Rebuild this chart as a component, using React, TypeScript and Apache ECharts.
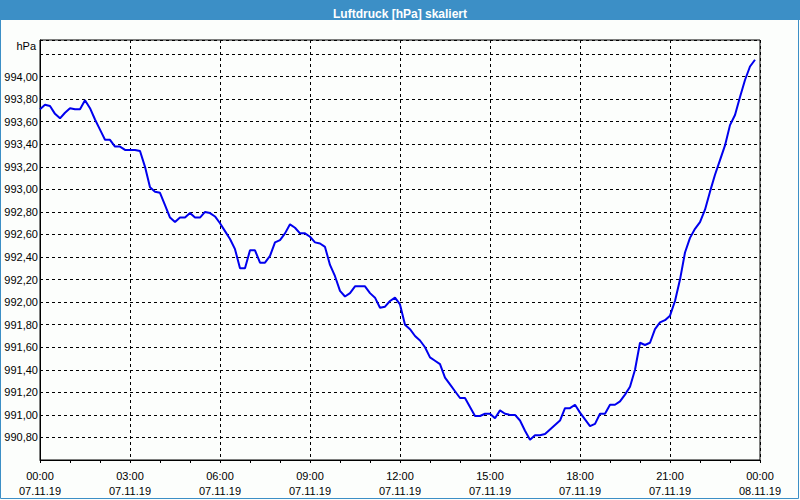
import React, { useEffect, useRef } from "react";
import * as echarts from "echarts";

const TITLE = "Luftdruck [hPa] skaliert";
const UNIT = "hPa";
const START_DATE = "07.11.19";
const END_DATE = "08.11.19";
const STEP_MINUTES = 10;

// Air pressure (hPa), one value every 10 minutes from 07.11.19 00:00 to 23:50
const pressure: number[] = [
  993.71, 993.75, 993.74, 993.67, 993.63, 993.68, 993.72, 993.71, 993.71, 993.79,
  993.72, 993.62, 993.53, 993.44, 993.44, 993.38, 993.38, 993.35, 993.35, 993.35,
  993.34, 993.2, 993.02, 992.98, 992.97, 992.86, 992.75, 992.71, 992.75, 992.75,
  992.79, 992.75, 992.75, 992.8, 992.79, 992.76, 992.7, 992.63, 992.56, 992.47,
  992.3, 992.3, 992.46, 992.46, 992.35, 992.35, 992.41, 992.53, 992.55, 992.61,
  992.69, 992.66, 992.61, 992.61, 992.58, 992.53, 992.52, 992.49, 992.33, 992.23,
  992.1, 992.05, 992.08, 992.14, 992.14, 992.14, 992.08, 992.04, 991.95, 991.96,
  992.01, 992.04, 991.98, 991.8, 991.76, 991.7, 991.66, 991.6, 991.51, 991.48,
  991.45, 991.33, 991.27, 991.21, 991.15, 991.15, 991.07, 990.99, 990.99, 991.01,
  991.01, 990.97, 991.04, 991.01, 991.0, 991.0, 990.95, 990.86, 990.78, 990.82,
  990.82, 990.83, 990.87, 990.91, 990.95, 991.06, 991.06, 991.09, 991.02, 990.96,
  990.9, 990.92, 991.01, 991.01, 991.09, 991.09, 991.12, 991.18, 991.25, 991.4,
  991.64, 991.62, 991.64, 991.76, 991.82, 991.84, 991.88, 992.01, 992.2, 992.44,
  992.57, 992.65, 992.71, 992.82, 992.98, 993.13, 993.26, 993.39, 993.57, 993.66,
  993.82, 993.97, 994.09, 994.15,
];

const Y_MIN = 990.6;
const Y_MAX = 994.325;
const Y_LABEL_LOW = 990.8;
const Y_LABEL_HIGH = 994.0;

const FONT = "Liberation Sans";

export default function App() {
  const ref = useRef<HTMLDivElement>(null);

  useEffect(() => {
    if (!ref.current) return;
    const chart = echarts.init(ref.current, null, { renderer: "svg" });
    const data = pressure.map((v, i) => [i * STEP_MINUTES, v]);

    chart.setOption({
      animation: false,
      backgroundColor: "#fcfefc",
      title: {
        text: TITLE,
        left: "center",
        top: 3,
        textStyle: { color: "#ffffff", fontSize: 12, fontWeight: "bold", fontFamily: FONT },
      },
      graphic: [
        { type: "rect", z: -1, shape: { x: 0, y: 0, width: 800, height: 20 }, style: { fill: "#3c8fc6" } },
        {
          type: "rect",
          z: 100,
          shape: { x: 0.5, y: 0.5, width: 798, height: 498 },
          style: { fill: "none", stroke: "#3c8fc6", lineWidth: 1 },
        },
        {
          type: "text",
          x: 36,
          y: 46,
          style: {
            text: UNIT,
            fill: "#000000",
            font: `11px "${FONT}"`,
            align: "right",
            verticalAlign: "middle",
          },
        },
      ],
      grid: {
        left: 40,
        right: 40,
        top: 40,
        bottom: 40,
        show: true,
        borderColor: "#000000",
        borderWidth: 1,
        backgroundColor: "transparent",
      },
      xAxis: {
        type: "value",
        min: 0,
        max: 1440,
        interval: 180,
        axisLine: { show: true, onZero: false, lineStyle: { color: "#000000", width: 1 } },
        axisTick: { show: true, length: 3, lineStyle: { color: "#000000" } },
        minorTick: { show: true, splitNumber: 3, length: 3, lineStyle: { color: "#000000" } },
        splitLine: { show: true, lineStyle: { color: "#000000", type: [3, 3], width: 1 } },
        axisLabel: {
          color: "#000000",
          fontSize: 11,
          fontFamily: FONT,
          lineHeight: 15,
          margin: 8,
          formatter: (v: number) => {
            const h = Math.round(v / 60);
            const date = h >= 24 ? END_DATE : START_DATE;
            const hh = String(h % 24).padStart(2, "0");
            return `${hh}:00\n${date}`;
          },
        },
      },
      yAxis: {
        type: "value",
        min: Y_MIN,
        max: Y_MAX,
        interval: 0.2,
        axisLine: { show: true, lineStyle: { color: "#000000", width: 1 } },
        axisTick: { show: false },
        splitLine: { show: true, lineStyle: { color: "#000000", type: [3, 3], width: 1 } },
        axisLabel: {
          color: "#000000",
          fontSize: 11,
          fontFamily: FONT,
          margin: 2,
          formatter: (v: number) => {
            if (v < Y_LABEL_LOW - 0.01 || v > Y_LABEL_HIGH + 0.01) return "";
            return v.toFixed(2).replace(".", ",");
          },
        },
      },
      series: [
        {
          type: "line",
          data,
          showSymbol: false,
          symbol: "none",
          lineStyle: { color: "#0000ee", width: 2 },
        },
      ],
    });

    return () => chart.dispose();
  }, []);

  return (
    <div
      ref={ref}
      style={{ position: "absolute", left: 0, top: 0, width: 800, height: 500 }}
    />
  );
}
